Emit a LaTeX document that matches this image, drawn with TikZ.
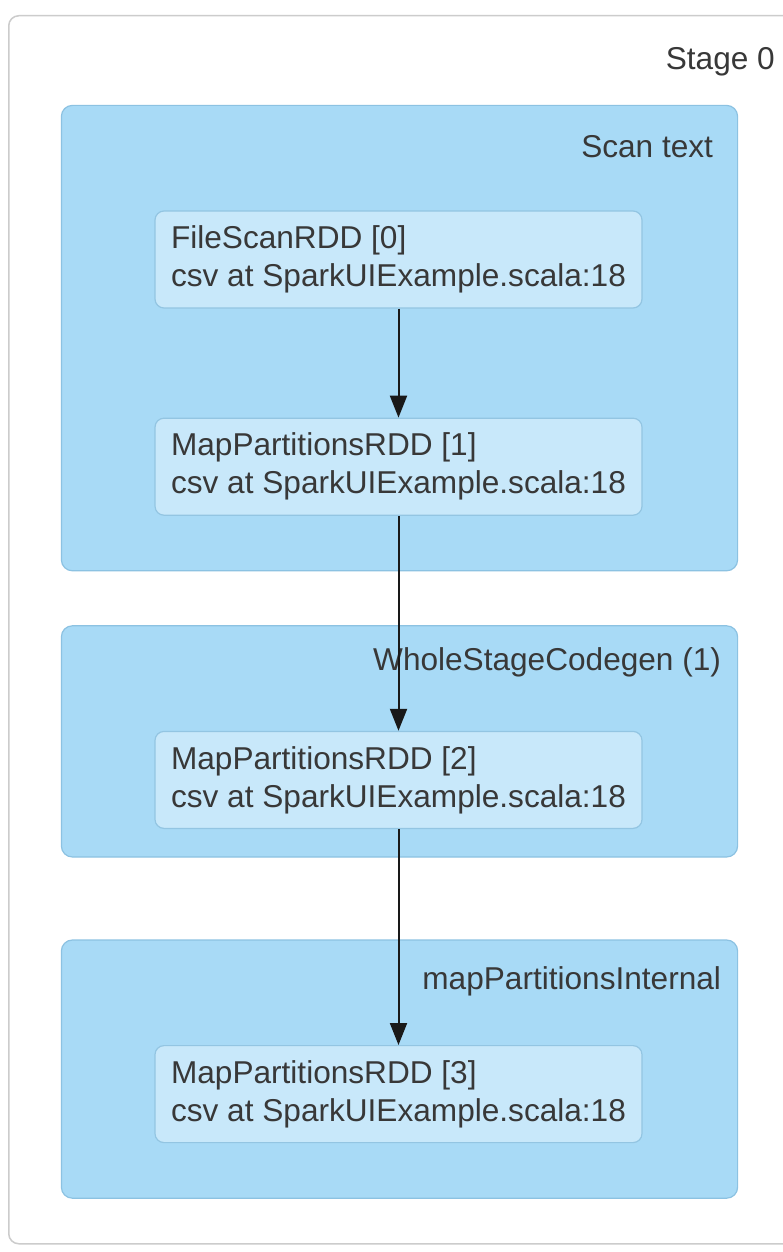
\documentclass[tikz,border=0pt]{standalone}
\usepackage{fontspec}
\setmainfont{Liberation Sans}
\usepackage{xcolor}
\usetikzlibrary{arrows.meta,positioning,fit,calc,backgrounds}
\definecolor{clusterblue}{HTML}{A8DAF6}
\definecolor{clusterline}{HTML}{8CC2E2}
\definecolor{rddblue}{HTML}{C8E8FA}
\definecolor{rddline}{HTML}{93C5E2}
\definecolor{labgray}{HTML}{383838}

\begin{document}
\begin{tikzpicture}[x=1pt, y=1pt,
  font=\fontsize{31.6}{38}\selectfont, >={Triangle[length=22pt, width=17pt]},
  rdd/.style={draw=rddline, line width=1.2pt, fill=rddblue, rounded corners=9pt, align=left, minimum width=487pt, minimum height=97pt, text=labgray},
  cluster/.style={draw=clusterline, line width=1.2pt, fill=clusterblue, rounded corners=11pt, inner sep=0pt},
  stagebox/.style={draw=gray!40, line width=1.5pt, fill=white, rounded corners=10pt, anchor=north west},
  lab/.style={anchor=east, inner sep=0pt, text=labgray},
  edge/.style={->, line width=2pt, draw=black!90}]
  \useasboundingbox (0,0) rectangle (783,-1252);
  \node[rdd] (r0) at (398.5,-259.5) {FileScanRDD [0]\\csv at SparkUIExample.scala:18};
  \node[rdd, below=109pt of r0] (r1) {MapPartitionsRDD [1]\\csv at SparkUIExample.scala:18};
  \node[rdd, below=215pt of r1] (r2) {MapPartitionsRDD [2]\\csv at SparkUIExample.scala:18};
  \node[rdd, below=216pt of r2] (r3) {MapPartitionsRDD [3]\\csv at SparkUIExample.scala:18};
  \begin{scope}[on background layer]
    \fill[white] (0,0) rectangle (783,-1252);
    \node[stagebox, minimum width=792pt, minimum height=1228pt] (stage) at (8,-15) {};
    \node[cluster, fit={($(r0.north west)+(-93,105)$) ($(r1.south east)+(95,-55)$)}] (scan) {};
    \node[cluster, fit={($(r2.north west)+(-93,105)$) ($(r2.south east)+(95,-28)$)}] (wsc) {};
    \node[cluster, fit={($(r3.north west)+(-93,105)$) ($(r3.south east)+(95,-55)$)}] (mpi) {};
  \end{scope}
  \node[lab] (stagelab) at ($(stage.north west)+(767,-47)$) {Stage 0};
  \node[lab] (scanlab) at ($(scan.north east)+(-25,-42)$) {Scan text};
  \node[lab] (wsclab) at ($(wsc.north east)+(-17,-37)$) {WholeStageCodegen (1)};
  \node[lab] (mpilab) at ($(mpi.north east)+(-17,-42)$) {mapPartitionsInternal};
  \draw[edge] (r0) -- (r1);
  \draw[edge] (r1) -- (r2);
  \draw[edge] (r2) -- (r3);
\end{tikzpicture}
\end{document}
